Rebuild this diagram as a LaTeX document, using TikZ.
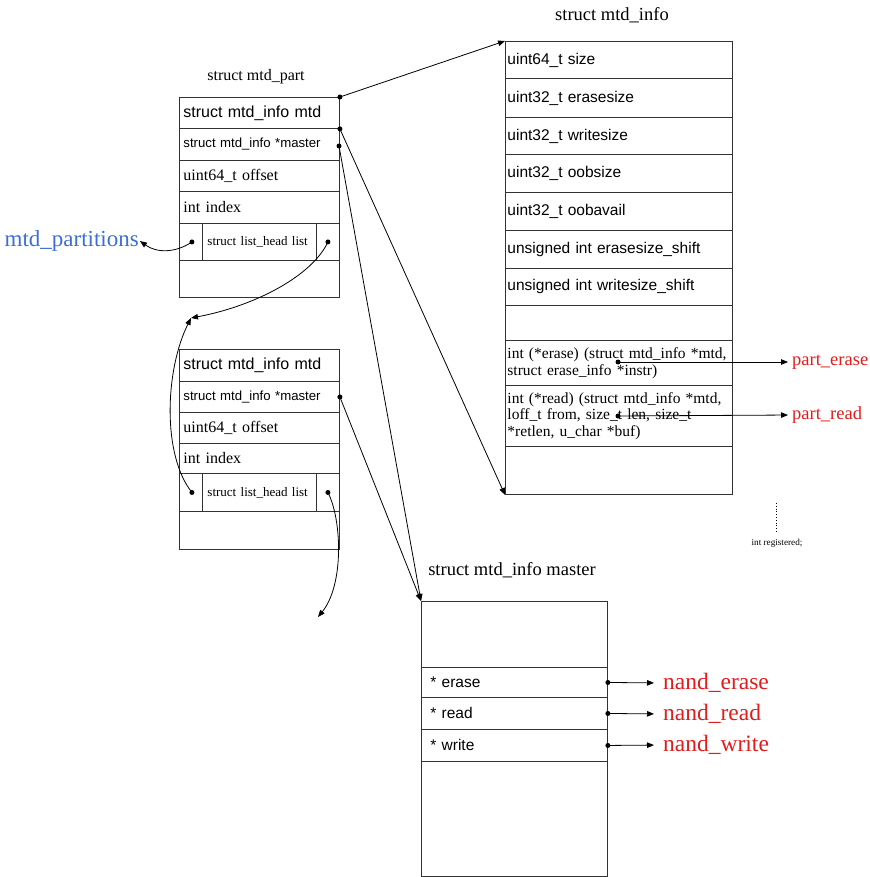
\documentclass[tikz,border=0pt]{standalone}
\usepackage{fontspec}
\setmainfont{Liberation Serif}
\newfontfamily\ars{Liberation Sans}
\usetikzlibrary{arrows.meta}
\definecolor{lblred}{RGB}{225,28,28}
\definecolor{lblblue}{RGB}{60,110,215}
\definecolor{bord}{RGB}{50,50,50}
\begin{document}
\begin{tikzpicture}[x=1pt,y=-1pt,
  cellbase/.style={draw=bord, line width=0.9pt, anchor=north west, inner xsep=4pt, inner ysep=0pt, align=left},
  rowA/.style={cellbase, text width=152pt, minimum height=#1},
  rowC/.style={cellbase, inner xsep=2pt, text width=223pt, minimum height=#1},
  rowD/.style={cellbase, inner xsep=9pt, text width=168pt, minimum height=#1},
  sidecell/.style={draw=bord, line width=0.9pt, anchor=north west, inner sep=0pt, minimum width=23pt, minimum height=#1},
  midcell/.style={cellbase, inner xsep=5pt, text width=104pt, minimum height=#1, font=\fontsize{13}{15}\selectfont},
  sansbig/.style={font=\ars\fontsize{16}{18}\selectfont},
  sanssmall/.style={font=\ars\fontsize{13.2}{15}\selectfont},
  serifbig/.style={font=\fontsize{16}{18}\selectfont},
  csans/.style={font=\ars\fontsize{15.5}{18}\selectfont},
  cserif/.style={font=\fontsize{15.5}{16.5}\selectfont},
  dsans/.style={font=\ars\fontsize{15.5}{18}\selectfont},
  title/.style={font=\fontsize{16}{18}\selectfont, inner sep=0pt},
  bigtitle/.style={font=\fontsize{18.5}{20}\selectfont, inner sep=0pt},
  dotn/.style={circle, fill=black, inner sep=0pt, minimum size=5pt},
  arr/.style={line width=0.8pt, -{Triangle[length=7pt,width=5.5pt]}},
  redlbl/.style={text=lblred, inner sep=0pt, anchor=west},
]
\useasboundingbox (0,0) rectangle (869,877);

% ---------- titles ----------
\node[title] (tpart) at (256,77) {struct mtd\_part};
\node[bigtitle] (tinfo) at (612,15) {struct mtd\_info};
\node[bigtitle] (tmaster) at (512,570) {struct mtd\_info master};

% ---------- box A (mtd_part) ----------
\node[rowA=31pt, sansbig] (a1) at (179,97) {struct mtd\_info mtd};
\node[rowA=32pt, sanssmall] (a2) at (179,128) {struct mtd\_info *master};
\node[rowA=31pt, serifbig] (a3) at (179,160) {uint64\_t offset};
\node[rowA=32pt, serifbig] (a4) at (179,191) {int index};
\node[sidecell=37pt] (a5l) at (179,223) {};
\node[midcell=37pt] (a5m) at (202,223) {struct list\_head list};
\node[sidecell=37pt] (a5r) at (316,223) {};
\node[rowA=37pt] (a6) at (179,260) {};

% ---------- box B (mtd_part) ----------
\node[rowA=32pt, sansbig] (b1) at (179,349) {struct mtd\_info mtd};
\node[rowA=31pt, sanssmall] (b2) at (179,381) {struct mtd\_info *master};
\node[rowA=31pt, serifbig] (b3) at (179,412) {uint64\_t offset};
\node[rowA=30pt, serifbig] (b4) at (179,443) {int index};
\node[sidecell=38pt] (b5l) at (179,473) {};
\node[midcell=38pt] (b5m) at (202,473) {struct list\_head list};
\node[sidecell=38pt] (b5r) at (316,473) {};
\node[rowA=38pt] (b6) at (179,511) {};

% ---------- box C (mtd_info) ----------
\node[rowC=37pt, csans] (c1) at (505,41) {uint64\_t size};
\node[rowC=39pt, csans] (c2) at (505,78) {uint32\_t erasesize};
\node[rowC=37pt, csans] (c3) at (505,117) {uint32\_t writesize};
\node[rowC=38pt, csans] (c4) at (505,154) {uint32\_t oobsize};
\node[rowC=38pt, csans] (c5) at (505,192) {uint32\_t oobavail};
\node[rowC=38pt, csans] (c6) at (505,230) {unsigned int erasesize\_shift};
\node[rowC=37pt, csans] (c7) at (505,268) {unsigned int writesize\_shift};
\node[rowC=35pt] (c8) at (505,305) {};
\node[rowC=45pt, cserif] (c9) at (505,340) {int (*erase) (struct mtd\_info *mtd,\\struct erase\_info *instr)};
\node[rowC=61pt, cserif] (c10) at (505,385) {int (*read) (struct mtd\_info *mtd,\\loff\_t from, size\_t len, size\_t\\{}*retlen, u\_char *buf)};
\node[rowC=48pt] (c11) at (505,446) {};

\draw[dotted, line width=0.8pt] (776,503) -- (776,533);
\node[font=\fontsize{9.2}{10}\selectfont, inner sep=0pt] (reg) at (777,543) {int registered;};

% ---------- box D (master) ----------
\node[rowD=66pt] (d1) at (421,601) {};
\node[rowD=30pt, dsans] (d2) at (421,667) {* erase};
\node[rowD=32pt, dsans] (d3) at (421,697) {* read};
\node[rowD=32pt, dsans] (d4) at (421,729) {* write};
\node[rowD=115pt] (d5) at (421,761) {};

% ---------- labels ----------
\node[text=lblblue, inner sep=0pt, anchor=east, font=\fontsize{23}{25}\selectfont] (mparts) at (139,241) {mtd\_partitions};
\node[redlbl, font=\fontsize{18.5}{20}\selectfont] (perase) at (792,362) {part\_erase};
\node[redlbl, font=\fontsize{18.5}{20}\selectfont] (pread) at (792,415) {part\_read};
\node[redlbl, font=\fontsize{23.5}{25}\selectfont] (nerase) at (663,683) {nand\_erase};
\node[redlbl, font=\fontsize{23.5}{25}\selectfont] (nread) at (663,714) {nand\_read};
\node[redlbl, font=\fontsize{23.5}{25}\selectfont] (nwrite) at (663,745) {nand\_write};

% ---------- dots ----------
\node[dotn] (pA0) at (a1.north east) {};
\node[dotn] (pA1) at (a1.south east) {};
\node[dotn] (pA2) at (339,146) {};
\node[dotn] (pAl) at ([xshift=1pt]a5l.center) {};
\node[dotn] (pAr) at (a5r.center) {};
\node[dotn] (pB2) at (b2.east) {};
\node[dotn] (pBl) at ([xshift=1pt]b5l.center) {};
\node[dotn] (pBr) at (b5r.center) {};
\node[dotn] (pC9) at (618,362) {};
\node[dotn] (pC10) at (618,416) {};
\node[dotn] (pD2) at (d2.east) {};
\node[dotn] (pD3) at (d3.east) {};
\node[dotn] (pD4) at (d4.east) {};

\coordinate (ltgt) at (191,318);
\coordinate (btgt) at (318,617);

% ---------- connectors ----------
\draw[arr] (pA0.center) -- (c1.north west);
\draw[arr] (pA1.center) -- (c11.south west);
\draw[arr] (pA2.center) -- (d1.north west);
\draw[arr] (pB2.center) -- (d1.north west);
\draw[arr] (pAl.center) to[bend left=35] ([xshift=1pt]mparts.east);
\draw[arr] (pAr.center) .. controls (312,276) and (255,306) .. (ltgt);
\draw[arr] (pBl.center) .. controls (162,455) and (165,370) .. (ltgt);
\draw[arr] (pBr.center) .. controls (342,520) and (344,585) .. (btgt);
\draw[arr, shorten >=4pt] (pC9.center) -- (perase.west);
\draw[arr, shorten >=4pt] (pC10.center) -- (pread.west);
\draw[arr, shorten >=9pt] (pD2.center) -- (nerase.west);
\draw[arr, shorten >=9pt] (pD3.center) -- (nread.west);
\draw[arr, shorten >=9pt] (pD4.center) -- (nwrite.west);
\end{tikzpicture}
\end{document}
